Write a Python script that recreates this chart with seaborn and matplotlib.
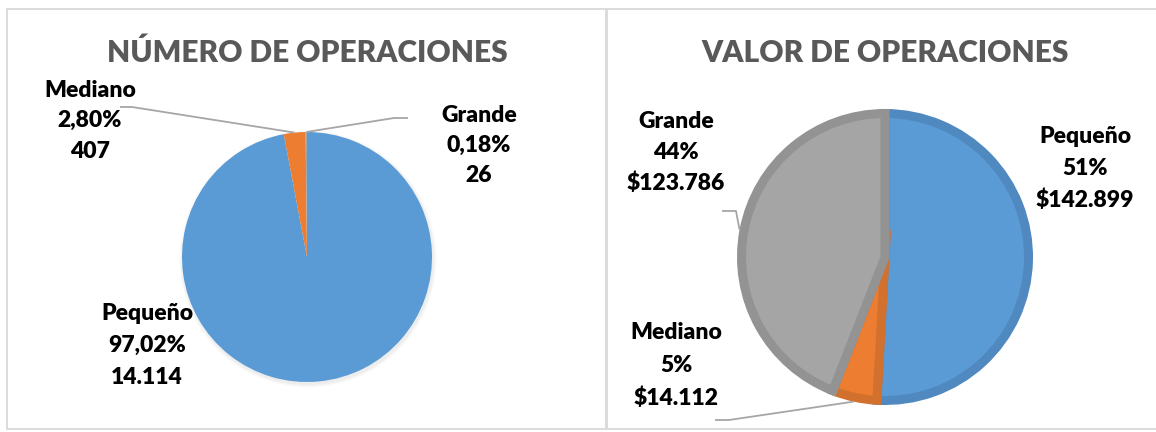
import numpy as np
import matplotlib
matplotlib.use("Agg")
import matplotlib.pyplot as plt
import matplotlib.patches as mpatches
import seaborn as sns

# ---- data ----
categories = ["Pequeño", "Mediano", "Grande"]
num_values = [14114, 407, 26]
num_pct_labels = ["97,02%", "2,80%", "0,18%"]
num_value_labels = ["14.114", "407", "26"]
val_values = [142899, 14112, 123786]
val_pct_labels = ["51%", "5%", "44%"]
val_value_labels = ["$142.899", "$14.112", "$123.786"]
titles = ["NÚMERO DE OPERACIONES", "VALOR DE OPERACIONES"]

face_colors = ["#5B9BD5", "#ED7D31", "#A5A5A5"]
edge_colors = ["#4F89C0", "#D2702E", "#939393"]

sns.set_theme(style="white")
plt.rcParams["font.family"] = ["Lato", "DejaVu Sans"]

W, H = 1156, 432
fig = plt.figure(figsize=(W / 100, H / 100), dpi=100)
ax = fig.add_axes([0, 0, 1, 1])


def Y(y_top):
    return H - y_top


# panel frames
for x0, x1 in [(7, 606), (607, 1162)]:
    ax.add_patch(mpatches.Rectangle((x0, Y(429)), x1 - x0, 420, fill=False,
                                    edgecolor="#D9D9D9", linewidth=1.3))

# soft shadow under the left pie
c1 = (307, Y(257))
r1 = 125
for k in range(6):
    ax.add_patch(mpatches.Circle((c1[0] + 1, c1[1] - 2), r1 + 0.6 * (6 - k),
                                 color="#000000", alpha=0.012, linewidth=0))

# ---- left pie ----
w1, _ = ax.pie(num_values, colors=face_colors, startangle=90, counterclock=False,
               center=c1, radius=r1, wedgeprops=dict(linewidth=0))

# ---- right pie ----
c2 = (885, Y(257))
lw_px = 9
r2 = 148 - lw_px / 2
w2, _ = ax.pie(val_values, colors=face_colors, startangle=90, counterclock=False,
               center=c2, radius=r2,
               wedgeprops=dict(linewidth=lw_px * 0.72))
for w, ec in zip(w2, edge_colors):
    w.set_edgecolor(ec)
    w.set_joinstyle("miter")

ax.set_xlim(0, W)
ax.set_ylim(0, H)
ax.set_aspect("auto")
ax.axis("off")

# titles
title_kw = dict(ha="center", va="baseline", fontsize=21.5, fontweight="heavy", color="#595959")
ax.text(307, Y(62), titles[0], **title_kw)
ax.text(885, Y(62), titles[1], **title_kw)

lab_kw = dict(ha="center", va="baseline", fontsize=16.5, fontweight="heavy", color="black")


def label(x, ys, lines):
    for y, t in zip(ys, lines):
        ax.text(x, Y(y), t, **lab_kw)


def mid_point(values, i, center, radius):
    tot = sum(values)
    frac = (sum(values[:i]) + values[i] / 2) / tot
    ang = np.deg2rad(90 - 360 * frac)
    return center[0] + radius * np.cos(ang), center[1] + radius * np.sin(ang)


lc = "#A6A6A6"
# left labels
label(147, [320, 352, 384], [categories[0], num_pct_labels[0], num_value_labels[0]])
label(90, [97, 127, 158], [categories[1], num_pct_labels[1], num_value_labels[1]])
label(479, [122, 152, 182], [categories[2], num_pct_labels[2], num_value_labels[2]])

px, py = mid_point(num_values, 1, c1, r1)
ax.plot([120, 132, px], [Y(107), Y(107), py], color=lc, lw=1.3, solid_capstyle="butt")
px, py = mid_point(num_values, 2, c1, r1)
ax.plot([408, 394, px], [Y(118), Y(118), py], color=lc, lw=1.3, solid_capstyle="butt")

# right labels
label(1085, [143, 175, 207], [categories[0], val_pct_labels[0], val_value_labels[0]])
label(676, [339, 372, 405], [categories[1], val_pct_labels[1], val_value_labels[1]])
label(676, [128, 159, 190], [categories[2], val_pct_labels[2], val_value_labels[2]])

px, py = mid_point(val_values, 1, c2, 148)
ax.plot([715, 729, px], [Y(420), Y(420), py], color=lc, lw=1.3, solid_capstyle="butt")
px, py = mid_point(val_values, 2, c2, 148)
ax.plot([722, 736, px], [Y(211), Y(211), py], color=lc, lw=1.3, solid_capstyle="butt")

fig.savefig("out.png", dpi=100)
